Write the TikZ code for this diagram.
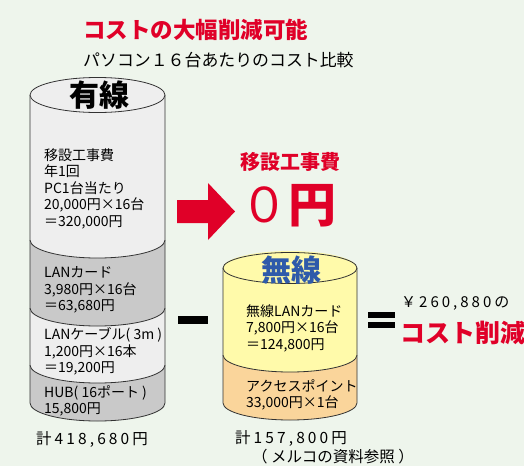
\documentclass[tikz,border=0pt]{standalone}
\usepackage{fontspec}
\setmainfont{Noto Sans CJK JP}
\newfontfamily\jpsp[LetterSpace=20]{Noto Sans CJK JP}
\definecolor{bg}{RGB}{238,245,236}
\definecolor{lgray}{RGB}{238,238,238}
\definecolor{dgray}{RGB}{201,201,201}
\definecolor{pyellow}{RGB}{255,250,170}
\definecolor{porange}{RGB}{250,213,155}
\definecolor{jred}{RGB}{224,0,40}
\definecolor{jblue}{RGB}{46,90,170}
\definecolor{edge}{RGB}{50,50,50}
\newcommand\cylseg[6]{%
  \path[fill=#1] (#2-#3,#5) -- (#2-#3,#6) arc[start angle=180,end angle=360,x radius=#3pt,y radius=#4pt] -- (#2+#3,#5) arc[start angle=0,end angle=180,x radius=#3pt,y radius=#4pt] -- cycle;
  \draw[cyl] (#2-#3,#5) -- (#2-#3,#6) arc[start angle=180,end angle=360,x radius=#3pt,y radius=#4pt] -- (#2+#3,#5);}
\begin{document}
\begin{tikzpicture}[x=1pt,y=-1pt,
  cyl/.style={draw=edge,line width=0.8pt},
  body/.style={inner sep=0pt,anchor=west,align=left,font=\fontsize{14}{16.5}\selectfont},
  head/.style={inner sep=0pt,font=\fontsize{30}{30}\selectfont\bfseries},
  total/.style={inner sep=0pt,font=\fontsize{15.5}{18}\selectfont\jpsp}]
\useasboundingbox (0,0) rectangle (524,466);
\fill[bg] (0,0) rectangle (524,466);
% titles
\node[inner sep=0pt,anchor=west,text=jred,font=\fontsize{22.5}{24}\selectfont\bfseries] (title) at (83,30) {コストの大幅削減可能};
\node[inner sep=0pt,anchor=west,font=\fontsize{16.9}{18}\selectfont] (subtitle) at (83,60) {パソコン１６台あたりのコスト比較};
% wired cylinder
\cylseg{dgray}{97.5}{67.5}{18}{365}{403}
\cylseg{lgray}{97.5}{67.5}{18}{308}{365}
\cylseg{dgray}{97.5}{67.5}{18}{240}{308}
\cylseg{lgray}{97.5}{67.5}{18}{95}{240}
\draw[cyl,fill=lgray] (97.5,95) ellipse[x radius=67.5pt,y radius=17.5pt];
\node[head] (wired) at (99,95) {有線};
\node[body] (w1) at (44,188.5) {移設工事費\\年1回\\PC1台当たり\\20,000円×16台\\＝320,000円};
\node[body] (w2) at (44,290) {LANカード\\3,980円×16台\\＝63,680円};
\node[body] (w3) at (44,351.5) {LANケーブル( 3m )\\1,200円×16本\\＝19,200円};
\node[body] (w4) at (44,401) {HUB( 16ポート )\\15,800円};
\node[total] (wtotal) at (92,439) {計418,680円};
% arrow and zero cost
\fill[jred] (177,200) -- (208,200) -- (208,183) -- (235,211.5) -- (208,240) -- (208,223) -- (177,223) -- cycle;
\node[inner sep=0pt,text=jred,font=\fontsize{20}{22}\selectfont\bfseries] (zerolabel) at (290,162) {移設工事費};
\node[inner sep=0pt,text=jred,font=\fontsize{48}{50}\selectfont] (zero) at (288,206) {０\textbf{円}};
% minus
\fill[black] (178,316) rectangle (208,324);
% wireless cylinder
\cylseg{porange}{290}{67}{17}{355}{403}
\cylseg{pyellow}{290}{67}{17}{268}{355}
\draw[cyl,fill=pyellow] (290,268) ellipse[x radius=67pt,y radius=15.5pt];
\node[head,text=jblue] (wireless) at (291,270) {無線};
\node[body] (r1) at (246,328) {無線LANカード\\7,800円×16台\\＝124,800円};
\node[body] (r2) at (246,395) {アクセスポイント\\33,000円×1台};
\node[total] (rtotal) at (291,438) {計157,800円};
\node[inner sep=0pt,font=\fontsize{15.5}{18}\selectfont] (source) at (333,456.5) {（ メルコの資料参照 ）};
% equals
\fill[black] (368,312) rectangle (395,317.5);
\fill[black] (368,322) rectangle (395,327.5);
\node[inner sep=0pt,anchor=west,font=\fontsize{15}{18}\selectfont\jpsp] (saving) at (401,303) {￥260,880の};
\node[inner sep=0pt,anchor=west,text=jred,font=\fontsize{25}{27}\selectfont\bfseries] (savelabel) at (400,333) {コスト削減};
\end{tikzpicture}
\end{document}
